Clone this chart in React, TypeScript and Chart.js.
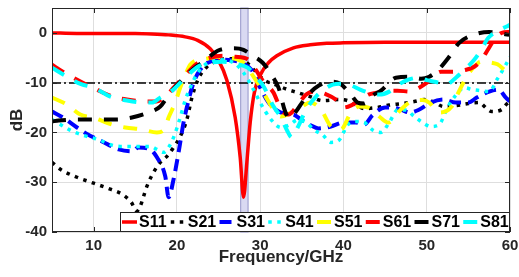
import React, { useEffect, useRef } from 'react';
import { Chart, registerables } from 'chart.js';

Chart.register(...registerables);

// ---------- data ----------
const xTicks = [10, 20, 30, 40, 50, 60];
const yTicks = [-40, -30, -20, -10, 0];
const seriesNames = ['S11', 'S21', 'S31', 'S41', 'S51', 'S61', 'S71', 'S81'];
const bandRange = [27.6, 28.6];
const refLevel = -10;

const s11F = [5, 8, 10, 12, 15, 17, 19, 21, 22.5, 24, 25, 26, 27, 27.6, 28, 28.4, 28.8, 29.3, 30, 31, 32, 34, 36, 38, 40, 45, 50, 55, 60];
const s11V = [0, -0.1, -0.1, -0.1, -0.1, -0.2, -0.4, -0.8, -1.5, -3.2, -5.5, -9.5, -17, -25, -33, -26, -18, -12, -8.5, -6, -4.6, -3.0, -2.4, -2.1, -2.0, -1.9, -1.9, -1.9, -1.9];

const s21F = [5, 6, 8, 10, 12, 13.5, 14.5, 15.2, 15.6, 16.4, 17.2, 18, 18.8, 19.6, 20.4, 21.2, 21.8, 22.5, 23.5, 25, 26.5, 28, 29, 30.5, 32, 33, 34.5, 36, 37.5, 39.5, 40.5, 41.5, 42.5, 44, 45.5, 47, 48.5, 49.7, 51, 52, 53.5, 55, 56.3, 57.2, 57.8, 59, 59.6, 60];
const s21V = [-26, -27.4, -29, -30.2, -31.4, -32.5, -34, -35.8, -34.8, -30.8, -28, -26, -24.8, -23, -20.8, -17.4, -13, -9.5, -7, -5.5, -5.2, -5.5, -7, -9.5, -10.5, -11.2, -12, -12.8, -13.6, -13.4, -13.6, -14.5, -15.2, -15, -14.5, -14.2, -13.8, -13.4, -14, -14.8, -14.6, -14.2, -14, -15.2, -15.8, -15.4, -14.3, -13.8];

const s31F = [5, 6.3, 8, 9.3, 10.5, 11.7, 13, 14.6, 15.4, 16.8, 17.6, 18.6, 19, 19.6, 20.2, 20.8, 21.4, 22, 22.8, 23.7, 25, 26.5, 28, 29, 30, 31, 32.5, 34, 35, 36, 37, 38.5, 40, 41.5, 42.5, 43.5, 45, 46, 47, 48, 49, 50.5, 52, 53.5, 55, 56, 57.5, 58.6, 59.5, 60];
const s31V = [-15.8, -17, -19, -20.4, -21.4, -22.4, -23.4, -23.8, -23, -23.4, -25, -28.8, -33, -29.4, -24, -18, -13.5, -10, -7.4, -6, -5.4, -5.5, -6.2, -7.5, -11, -14, -16, -16.4, -17.5, -18.5, -19.2, -18.8, -18, -18, -18.4, -16.5, -15, -15, -15.5, -16, -15.5, -14, -13.4, -14, -14, -13, -11.8, -11.4, -13, -13.8];

const s41F = [5, 6, 7.5, 9.2, 10.5, 12.3, 13.2, 15.2, 16.8, 17.6, 18.4, 19, 19.6, 20.4, 21, 21.6, 22.5, 23.7, 25, 26.8, 28, 29.2, 30, 31.3, 32.5, 33.5, 34.5, 35.5, 36.5, 37.5, 38.5, 39.5, 40.5, 41.5, 42.5, 43.5, 44.5, 45.5, 46.5, 47.5, 48.5, 49.5, 50.5, 51.5, 52.5, 53.5, 54.5, 55.5, 56.5, 57.5, 58.5, 59.3, 60];
const s41V = [-17.4, -18.4, -19.8, -20.8, -21.4, -22.6, -22.8, -22.8, -22.8, -23.4, -24, -23, -21, -17, -13.5, -11, -8, -6, -5.4, -6, -8, -11.4, -14, -17.4, -19, -18.5, -17.5, -18, -19.5, -20.5, -22, -21.5, -18.5, -17.8, -18, -19.5, -20, -18, -15.5, -15.5, -16.8, -18, -18.8, -18.4, -15, -12.5, -11, -11.4, -11.6, -11.8, -9.2, -7, -4.8];

const s51F = [5, 6.8, 8.4, 9.9, 12.2, 13.8, 15.8, 17.6, 18.5, 19, 19.8, 20.4, 21, 21.6, 22.2, 23.5, 25, 26.5, 28, 29.2, 30, 31, 31.6, 32.5, 33.5, 35, 36, 37.3, 38.5, 39.7, 40.9, 41.9, 43, 44.3, 45.4, 46.9, 48.1, 49.5, 50.3, 51.5, 53, 53.8, 54.8, 55.6, 56.5, 57.8, 58.5, 59.6, 60];
const s51V = [-13, -14.4, -16.4, -17, -18.4, -19, -19.4, -20, -19.4, -17, -14, -11, -8.5, -6.4, -5.6, -5.2, -4.8, -5, -6, -8.8, -10.8, -13.8, -15.4, -16.8, -16.2, -14.8, -14, -15.4, -18.8, -19.4, -16, -14.8, -15, -16.8, -18, -15.4, -13.8, -13.5, -14, -16, -14.8, -12, -8.8, -7, -5.8, -6, -6.3, -7.8, -8.2];

const s61F = [5, 6.3, 8.7, 10.5, 12.3, 14, 16.4, 17.5, 18.5, 19.6, 21, 22.5, 24, 25.5, 27, 28.5, 29.5, 30.4, 31.6, 32.5, 33.4, 34.5, 35.5, 36.7, 38, 39.1, 40, 41, 42.1, 43, 44, 45, 46.5, 48, 49.1, 50.2, 51.7, 53, 54.5, 55.7, 56.6, 57.3, 58.1, 59, 60];
const s61V = [-6.4, -7.8, -10, -11.5, -12.8, -13.4, -13.8, -13.8, -13, -11, -8.5, -6, -5, -4.6, -4.8, -5.3, -7.5, -9.8, -12, -15.4, -16.4, -14.5, -12.4, -11.8, -12.4, -13.4, -15, -14.5, -13.4, -12.4, -12, -11.6, -11.6, -11.8, -11, -9.8, -7.8, -7.8, -7.5, -6.8, -5.4, -3.5, -1.4, 0, 0.2];

const s71F = [5, 5.8, 9, 10.8, 12.8, 14.6, 16.6, 18, 19, 20, 21, 22, 23.2, 24.9, 26.8, 28, 28.9, 30.3, 31.5, 32.2, 33, 33.5, 34.3, 35.2, 36, 37, 38.7, 39.6, 40.9, 41.7, 42.5, 43.3, 44.5, 46.3, 48.1, 49.3, 50.3, 51.4, 52.7, 53.9, 55.6, 57.5, 58.5, 59.9];
const s71V = [-17.8, -17.6, -17.4, -17.4, -17.4, -17, -16, -14.8, -12.5, -10.5, -8.8, -7.2, -5.8, -3.6, -3.1, -3.4, -4.4, -6, -8.8, -11, -15.8, -17.2, -15.8, -13.6, -12, -10.6, -9.8, -10.2, -12.4, -14, -14.2, -12.8, -11.6, -9, -8.8, -9.2, -8.8, -7.4, -4.8, -2, -0.4, 0.2, 0, -0.4];

const s81F = [5, 6.5, 8.5, 10, 12, 14, 16, 17, 18, 19.5, 21, 22.5, 24, 25.5, 27, 28.5, 29.5, 30.5, 31.5, 32.5, 33.2, 33.8, 34.5, 35.5, 36.7, 37.8, 38.7, 39.5, 40.7, 42, 43, 44.3, 45.5, 46.5, 47.8, 49, 50, 51.4, 52.3, 53.5, 54.8, 55.7, 56.5, 57.4, 58.1, 59, 60];
const s81V = [-7, -8.5, -10.3, -11, -12.8, -13.6, -14, -14, -13, -11.5, -9, -6.8, -6, -5.8, -6.2, -7, -8.8, -11, -14.5, -17, -19.5, -21, -19, -15.5, -12.8, -11.2, -10.4, -10.2, -10.4, -11.4, -12, -12.4, -11.8, -10.5, -9.4, -9, -9.5, -10, -10.4, -9, -7, -5.4, -3.5, -1, 0, 0.8, 1.6];

const seriesF = [s11F, s21F, s31F, s41F, s51F, s61F, s71F, s81F];
const seriesV = [s11V, s21V, s31V, s41V, s51V, s61V, s71V, s81V];

// ---------- styles ----------
const FONT = 'Arial, "Liberation Sans", Helvetica, sans-serif';
const DOT = [3.5, 5.5];
const DASH = [14, 12];
const styles = [
  { color: '#ff0000', dash: [] as number[], width: 3.5 },
  { color: '#000000', dash: DOT, width: 3.5 },
  { color: '#0000ff', dash: [12, 7], width: 4 },
  { color: '#00ffff', dash: DOT, width: 3.5 },
  { color: '#ffff00', dash: DASH, width: 4 },
  { color: '#ff0000', dash: DASH, width: 4 },
  { color: '#000000', dash: DASH, width: 4 },
  { color: '#00ffff', dash: DASH, width: 4 },
];

const decor = {
  id: 'decor',
  beforeDatasetsDraw(chart: any) {
    const { ctx, chartArea: a, scales } = chart;
    const x = scales.x, y = scales.y;
    ctx.save();
    const bx0 = x.getPixelForValue(bandRange[0]);
    const bx1 = x.getPixelForValue(bandRange[1]);
    ctx.fillStyle = '#d9d9f2';
    ctx.fillRect(bx0, a.top, bx1 - bx0, a.bottom - a.top);
    ctx.strokeStyle = '#9a9acc';
    ctx.lineWidth = 1;
    ctx.strokeRect(bx0 + 0.5, a.top, bx1 - bx0 - 1, a.bottom - a.top);
    const ry = Math.round(y.getPixelForValue(refLevel));
    ctx.setLineDash([9, 3, 2, 3]);
    ctx.strokeStyle = '#000';
    ctx.lineWidth = 1.5;
    ctx.beginPath();
    ctx.moveTo(a.left, ry);
    ctx.lineTo(a.right, ry);
    ctx.stroke();
    ctx.restore();
  },
  afterDatasetsDraw(chart: any) {
    const { ctx, chartArea: a, scales } = chart;
    const x = scales.x, y = scales.y;
    ctx.save();
    ctx.strokeStyle = '#262626';
    ctx.lineWidth = 1;
    ctx.setLineDash([]);
    ctx.strokeRect(a.left + 0.5, a.top + 0.5, a.right - a.left - 1, a.bottom - a.top - 1);
    const tl = 5;
    ctx.beginPath();
    xTicks.forEach((v) => {
      const px = Math.round(x.getPixelForValue(v)) + 0.5;
      ctx.moveTo(px, a.top); ctx.lineTo(px, a.top + tl);
      ctx.moveTo(px, a.bottom); ctx.lineTo(px, a.bottom - tl);
    });
    yTicks.forEach((v) => {
      const py = Math.round(y.getPixelForValue(v)) + 0.5;
      ctx.moveTo(a.left, py); ctx.lineTo(a.left + tl, py);
      ctx.moveTo(a.right, py); ctx.lineTo(a.right - tl, py);
    });
    ctx.stroke();

    // legend
    const lw = 390, lh = 20;
    const lx0 = a.right - lw, ly0 = a.bottom - lh;
    ctx.fillStyle = '#fff';
    ctx.fillRect(lx0, ly0, lw, lh);
    ctx.strokeStyle = '#262626';
    ctx.strokeRect(lx0 + 0.5, ly0 + 0.5, lw - 1, lh - 1);
    const step = lw / seriesNames.length;
    const cy = ly0 + lh / 2;
    ctx.font = `bold 16px ${FONT}`;
    ctx.textBaseline = 'middle';
    ctx.textAlign = 'left';
    seriesNames.forEach((name, i) => {
      const st = styles[i];
      const ix = lx0 + 2 + i * step;
      ctx.strokeStyle = st.color;
      ctx.lineWidth = st.width;
      ctx.setLineDash(st.dash);
      ctx.lineCap = 'butt';
      ctx.beginPath();
      ctx.moveTo(ix, cy);
      ctx.lineTo(ix + 15, cy);
      ctx.stroke();
      ctx.setLineDash([]);
      ctx.fillStyle = '#000';
      ctx.fillText(name, ix + 17, cy + 1);
    });
    ctx.restore();
  },
};

export default function App() {
  const ref = useRef<HTMLCanvasElement | null>(null);
  useEffect(() => {
    document.body.style.margin = '0';
    const canvas = ref.current;
    if (!canvas) return;
    const datasets = seriesNames.map((name, i) => ({
      label: name,
      data: seriesF[i].map((f, k) => ({ x: f, y: seriesV[i][k] })),
      borderColor: styles[i].color,
      backgroundColor: styles[i].color,
      borderWidth: styles[i].width,
      borderDash: styles[i].dash,
      borderCapStyle: 'butt' as const,
      pointRadius: 0,
      cubicInterpolationMode: 'monotone' as const,
      fill: false,
      order: seriesNames.length - i,
    }));
    const chart = new Chart(canvas, {
      type: 'line',
      data: { datasets },
      plugins: [decor],
      options: {
        animation: false,
        responsive: false,
        maintainAspectRatio: false,
        layout: { padding: { top: 8, right: 9, left: 0, bottom: 0 } },
        plugins: { legend: { display: false }, tooltip: { enabled: false } },
        scales: {
          x: {
            type: 'linear',
            min: 5,
            max: 60,
            afterBuildTicks: (s: any) => { s.ticks = xTicks.map((v) => ({ value: v })); },
            afterFit: (s: any) => { s.height = 45; s.paddingLeft = 0; s.paddingRight = 0; },
            grid: { color: '#dedede', lineWidth: 1, drawTicks: false },
            border: { display: false },
            ticks: { color: '#262626', font: { family: FONT, size: 15, weight: 'bold' }, padding: 5, maxRotation: 0 },
            title: { display: true, text: 'Frequency/GHz', color: '#262626', font: { family: FONT, size: 17, weight: 'bold' }, padding: { top: 0, bottom: 9 } },
          },
          y: {
            type: 'linear',
            min: -40,
            max: 5,
            afterBuildTicks: (s: any) => { s.ticks = yTicks.map((v) => ({ value: v })); },
            afterFit: (s: any) => { s.width = 52; s.paddingTop = 0; s.paddingBottom = 0; },
            grid: { color: '#dedede', lineWidth: 1, drawTicks: false },
            border: { display: false },
            ticks: { color: '#262626', font: { family: FONT, size: 15, weight: 'bold' }, padding: 5 },
            title: { display: true, text: 'dB', color: '#262626', font: { family: FONT, size: 17, weight: 'bold' }, padding: { top: 7, bottom: 0 } },
          },
        },
      } as any,
    });
    return () => chart.destroy();
  }, []);
  return (
    <div style={{ width: 519, height: 277 }}>
      <canvas ref={ref} width={519} height={277} style={{ display: 'block' }} />
    </div>
  );
}
